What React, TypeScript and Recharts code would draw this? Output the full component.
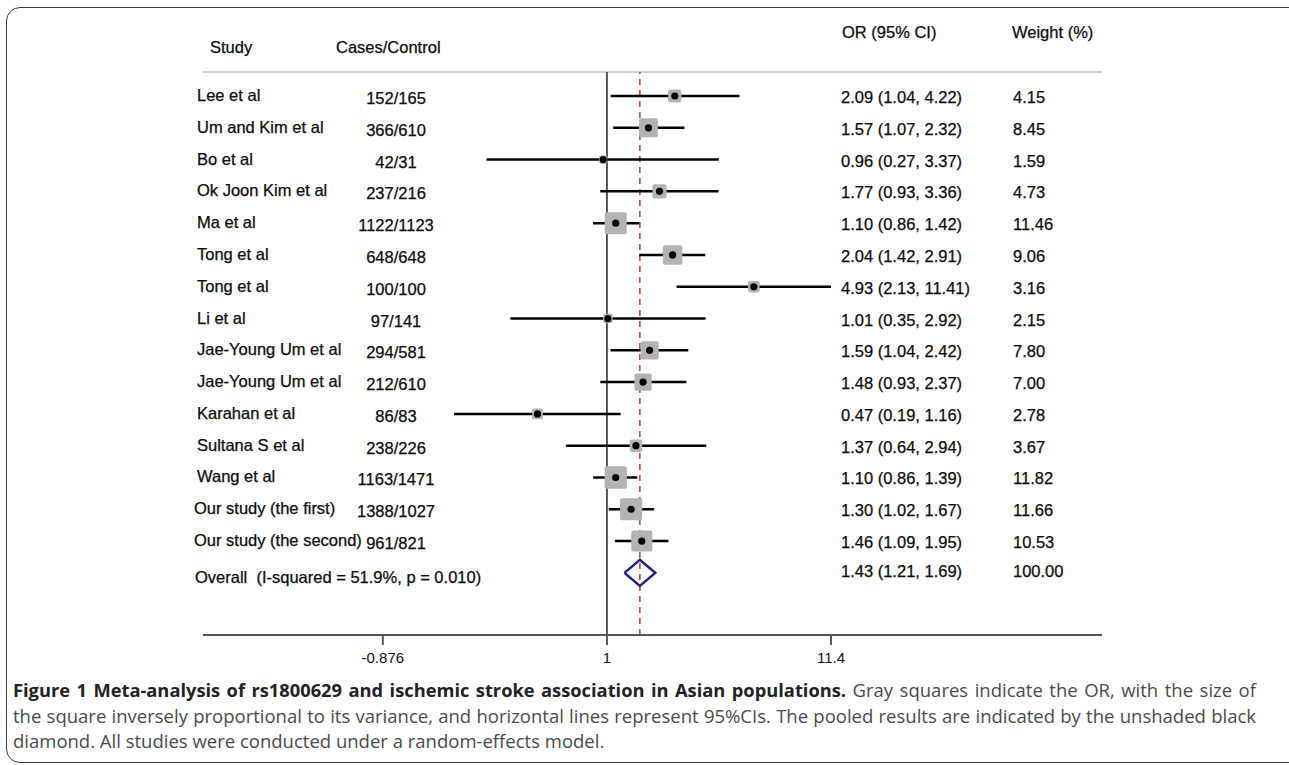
import React from "react";
import {
  ComposedChart,
  Scatter,
  XAxis,
  YAxis,
  ReferenceLine,
  ErrorBar,
  Customized,
} from "recharts";

// ---------- data ----------
const studies = [
  "Lee et al",
  "Um and Kim et al",
  "Bo et al",
  "Ok Joon Kim et al",
  "Ma et al",
  "Tong et al",
  "Tong et al",
  "Li et al",
  "Jae-Young Um et al",
  "Jae-Young Um et al",
  "Karahan et al",
  "Sultana S et al",
  "Wang et al",
  "Our study (the first)",
  "Our study (the second)",
];
const casesControl = [
  "152/165", "366/610", "42/31", "237/216", "1122/1123", "648/648", "100/100",
  "97/141", "294/581", "212/610", "86/83", "238/226", "1163/1471", "1388/1027", "961/821",
];
const orValues = [2.09, 1.57, 0.96, 1.77, 1.1, 2.04, 4.93, 1.01, 1.59, 1.48, 0.47, 1.37, 1.1, 1.3, 1.46];
const ciLower = [1.04, 1.07, 0.27, 0.93, 0.86, 1.42, 2.13, 0.35, 1.04, 0.93, 0.19, 0.64, 0.86, 1.02, 1.09];
const ciUpper = [4.22, 2.32, 3.37, 3.36, 1.42, 2.91, 11.41, 2.92, 2.42, 2.37, 1.16, 2.94, 1.39, 1.67, 1.95];
const weights = [4.15, 8.45, 1.59, 4.73, 11.46, 9.06, 3.16, 2.15, 7.8, 7.0, 2.78, 3.67, 11.82, 11.66, 10.53];

const overallLabel = "Overall  (I-squared = 51.9%, p = 0.010)";
const overallOR = 1.43;
const overallLower = 1.21;
const overallUpper = 1.69;
const overallWeight = 100.0;

const xTicks = [0.0876, 1, 11.4];
const xTickLabels = ["-0.876", "1", "11.4"];

const headerLabels = ["Study", "Cases/Control", "OR (95% CI)", "Weight (%)"];

const captionTitle = "Figure 1 Meta-analysis of rs1800629 and ischemic stroke association in Asian populations.";
const captionLines = [
  "Gray squares indicate the OR, with the size of",
  "the square inversely proportional to its variance, and horizontal lines represent 95%CIs. The pooled results are indicated by the unshaded black",
  "diamond. All studies were conducted under a random-effects model.",
];

// ---------- derived tables ----------
const overallRow = studies.length;
const rows = studies.map((s, i) => ({
  x: orValues[i],
  y: i,
  w: weights[i],
  err: [orValues[i] - ciLower[i], ciUpper[i] - orValues[i]],
}));
const labelRows = [...studies.map((_, i) => ({ x: 1, y: i, idx: i })), { x: 1, y: overallRow, idx: overallRow }];
const diamondHalf = 0.41;
const diamond = [
  { x: overallLower, y: overallRow },
  { x: overallOR, y: overallRow - diamondHalf },
  { x: overallUpper, y: overallRow },
  { x: overallOR, y: overallRow + diamondHalf },
  { x: overallLower, y: overallRow },
];
const fmt = (v: number) => v.toFixed(2);

const X_DOMAIN = [0.01242, 216.6];
const Y_DOMAIN = [-0.755, 16.955];

const FONT = "'Liberation Sans', Arial, sans-serif";
const FS = 16.5;
const textStyle = {
  fontFamily: FONT,
  fontSize: FS,
  fill: "#0a0a0a",
  stroke: "#0a0a0a",
  strokeWidth: 0.25,
};

const RowLabels = (props: any) => {
  const { cy, payload } = props;
  const y = cy;
  const i = payload.idx;
  if (i === overallRow) {
    return (
      <g {...textStyle}>
        <text x={195} y={y + 10} style={{ whiteSpace: "pre" }}>{overallLabel}</text>
        <text x={841} y={y + 4}>
          {`${fmt(overallOR)} (${fmt(overallLower)}, ${fmt(overallUpper)})`}
        </text>
        <text x={1013} y={y + 4}>{fmt(overallWeight)}</text>
      </g>
    );
  }
  return (
    <g {...textStyle}>
      <text x={i >= 13 ? 194 : 197} y={y + 5}>{studies[i]}</text>
      <text x={396} y={y + 8} textAnchor="middle">{casesControl[i]}</text>
      <text x={841} y={y + 7}>
        {`${fmt(orValues[i])} (${fmt(ciLower[i])}, ${fmt(ciUpper[i])})`}
      </text>
      <text x={1013} y={y + 7}>{fmt(weights[i])}</text>
    </g>
  );
};

const Headers = () => (
  <g {...textStyle}>
    <text x={210} y={53}>{headerLabels[0]}</text>
    <text x={336} y={53}>{headerLabels[1]}</text>
    <text x={842} y={38}>{headerLabels[2]}</text>
    <text x={1012} y={38}>{headerLabels[3]}</text>
  </g>
);

const SquareShape = (props: any) => {
  const { cx, cy, payload } = props;
  const side = 6.5 * Math.sqrt(payload.w);
  return (
    <rect x={cx - side / 2} y={cy - side / 2} width={side} height={side} rx={2} fill="#b3b3b3" />
  );
};

const DotShape = (props: any) => {
  const { cx, cy } = props;
  return <circle cx={cx} cy={cy} r={3.6} fill="#000" />;
};

const EmptyShape = () => <g />;

const justified: React.CSSProperties = {
  width: 1243,
  textAlign: "justify",
  textAlignLast: "justify",
  whiteSpace: "normal",
};

export default function App() {
  return (
    <div
      style={{
        position: "absolute",
        left: 0,
        top: 0,
        width: 1289,
        height: 765,
        overflow: "hidden",
        background: "#fff",
      }}
    >
      <div
        style={{
          position: "absolute",
          left: 6,
          top: 7,
          width: 1300,
          height: 754,
          border: "1.5px solid #3a3a3a",
          borderRadius: 14,
        }}
      />
      <div style={{ position: "absolute", left: 0, top: 0 }}>
        <ComposedChart
          width={1289}
          height={700}
          margin={{ top: 72, right: 187, bottom: 35, left: 203 }}
        >
          <XAxis
            dataKey="x"
            type="number"
            scale="log"
            domain={X_DOMAIN}
            ticks={xTicks}
            interval={0}
            tickFormatter={(v: number) => xTickLabels[xTicks.indexOf(v)] ?? String(v)}
            height={30}
            tickSize={10}
            tickMargin={7}
            axisLine={{ stroke: "#555", strokeWidth: 2 }}
            tickLine={{ stroke: "#555", strokeWidth: 2 }}
            tick={{ fill: "#111", fontSize: 15, fontFamily: FONT }}
          />
          <YAxis
            dataKey="y"
            type="number"
            domain={Y_DOMAIN}
            reversed
            width={0}
            axisLine={false}
            tickLine={false}
            tick={false}
          />
          <ReferenceLine y={Y_DOMAIN[0]} stroke="#cfcfcf" strokeWidth={2} />
          <ReferenceLine x={1} stroke="#222" strokeWidth={1.5} />
          <ReferenceLine
            x={overallOR}
            stroke="#c0392b"
            strokeWidth={1.5}
            strokeDasharray="6 5"
          />
          <Scatter data={labelRows} shape={<RowLabels />} isAnimationActive={false} />
          <Scatter data={rows} shape={<SquareShape />} isAnimationActive={false} />
          <Scatter data={rows} shape={<DotShape />} isAnimationActive={false}>
            <ErrorBar
              dataKey="err"
              direction="x"
              width={0}
              stroke="#000"
              strokeWidth={2.5}
              isAnimationActive={false}
            />
          </Scatter>
          <Scatter
            data={diamond}
            shape={<EmptyShape />}
            line={{ stroke: "#1f1f78", strokeWidth: 2.5 }}
            fill="none"
            isAnimationActive={false}
          />
          <Customized component={Headers} />
        </ComposedChart>
      </div>
      <div
        style={{
          position: "absolute",
          left: 13,
          top: 677,
          fontFamily: "'Open Sans', sans-serif",
          fontSize: 18.5,
          lineHeight: "25.5px",
          color: "#4a4a4a",
        }}
      >
        <div style={justified}>
          <span style={{ fontWeight: 700, color: "#222", fontSize: 18.3 }}>{captionTitle}</span>{" "}
          {captionLines[0]}
        </div>
        <div style={justified}>{captionLines[1]}</div>
        <div style={{ whiteSpace: "nowrap" }}>{captionLines[2]}</div>
      </div>
    </div>
  );
}
